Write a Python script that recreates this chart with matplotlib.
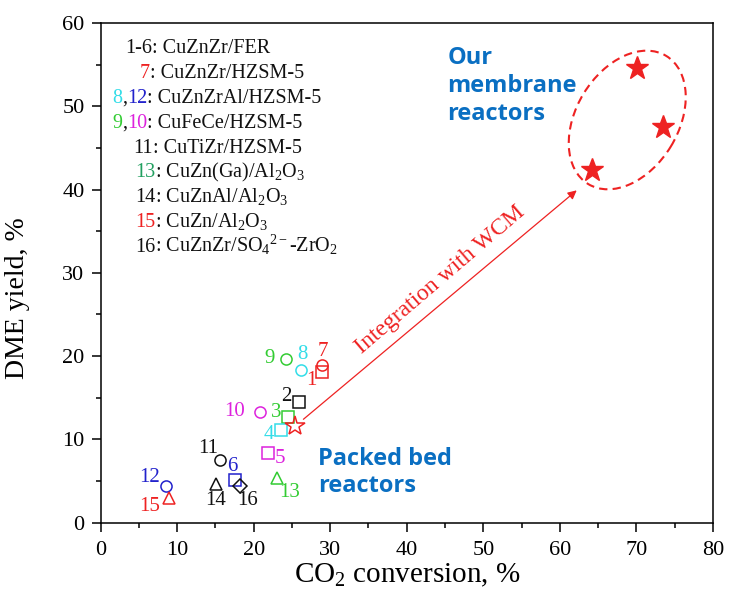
import numpy as np
import matplotlib.pyplot as plt
import matplotlib.transforms as mtransforms
from matplotlib.patches import Ellipse

plt.rcParams['font.family'] = ['Liberation Serif', 'DejaVu Serif']
plt.rcParams['mathtext.fontset'] = 'custom'
plt.rcParams['mathtext.rm'] = 'Liberation Serif'
plt.rcParams['mathtext.it'] = 'Liberation Serif:italic'

RED = '#ee2222'
CYAN = '#33dde8'
GREEN = '#33cc33'
MAGENTA = '#dd22dd'
BLUE = '#2222cc'
BLACK = '#111111'
TEAL = '#22a060'
NAVY = '#0a6fc2'

# packed bed reactors, CO2 conversion (%) vs DME yield (%)
pb_labels = ['1', '2', '3', '4', '5', '6', '7', '8', '9', '10',
             '11', '12', '13', '14', '15', '16']
pb_conv = [28.9, 25.9, 24.5, 23.6, 21.9, 17.6, 28.9, 26.2, 24.2, 20.8,
           15.6, 8.6, 23.1, 15.1, 8.9, 18.2]
pb_yield = [18.1, 14.5, 12.7, 11.1, 8.3, 5.1, 18.9, 18.3, 19.6, 13.3,
            7.5, 4.4, 5.3, 4.6, 2.9, 4.4]
pb_marker = ['s', 's', 's', 's', 's', 's', 'o', 'o', 'o', 'o',
             'o', 'o', '^', '^', '^', 'D']
pb_color = [RED, BLACK, GREEN, CYAN, MAGENTA, BLUE, RED, CYAN, GREEN, MAGENTA,
            BLACK, BLUE, GREEN, BLACK, RED, BLACK]
# label offsets in points
pb_offset = [(-7.5, -6.5), (-9, 3.6), (-8.5, 2.9), (-9, -3.5), (8.5, -3.6),
             (-2.2, 10), (0.7, 10), (0.7, 11.5), (-12, 0.7), (-18, 0),
             (-8.5, 8.5), (-12, 6), (8.5, -10.5), (-0.7, -12), (-13.5, -5.5),
             (5.5, -10.5)]

# packed bed reference point (open star)
ref_conv = [25.4]
ref_yield = [11.6]

# membrane reactors
mr_conv = [64.2, 70.1, 73.5]
mr_yield = [42.3, 54.6, 47.5]

legend_rows = [
    ([('1-6', BLACK)], 'CuZnZr/FER'),
    ([('7', RED)], 'CuZnZr/HZSM-5'),
    ([('8', CYAN), (',', BLACK), ('12', BLUE)], 'CuZnZrAl/HZSM-5'),
    ([('9', GREEN), (',', BLACK), ('10', MAGENTA)], 'CuFeCe/HZSM-5'),
    ([('11', BLACK)], 'CuTiZr/HZSM-5'),
    ([('13', TEAL)], 'CuZn(Ga)/Al$_2$O$_3$'),
    ([('14', BLACK)], 'CuZnAl/Al$_2$O$_3$'),
    ([('15', RED)], 'CuZn/Al$_2$O$_3$'),
    ([('16', BLACK)], 'CuZnZr/SO$_4$$^{2-}$-ZrO$_2$'),
]
legend_x = [3.2, 5.16, 1.5, 1.5, 4.25, 4.5, 4.5, 4.5, 4.5]

fig = plt.figure(figsize=(7.3, 5.96), dpi=100)
ax = fig.add_axes([0.1377, 0.1233, 0.8390, 0.8381])

for i in range(len(pb_labels)):
    ax.plot(pb_conv[i], pb_yield[i], marker=pb_marker[i], ms=8 if pb_marker[i] != 'D' else 7,
            mfc='none', mec=pb_color[i], mew=1.1, ls='none')
    ax.annotate(pb_labels[i], (pb_conv[i], pb_yield[i]), xytext=pb_offset[i],
                textcoords='offset points', ha='center', va='center',
                color=pb_color[i], fontsize=15)

ax.plot(ref_conv, ref_yield, marker='*', ms=15, mfc='none', mec=RED, mew=1.1, ls='none')
ax.plot(mr_conv, mr_yield, marker='*', ms=17, mfc=RED, mec=RED, ls='none')

# arrow from packed bed to membrane
ax.annotate('', xy=(62.2, 39.9), xytext=(26.5, 12.4),
            arrowprops=dict(arrowstyle='-|>', color=RED, lw=0.9,
                            mutation_scale=13, shrinkA=0, shrinkB=0))
ax.text(45.2, 28.2, 'Integration with WCM', color=RED, fontsize=17,
        rotation=40.6, rotation_mode='anchor', ha='center', va='bottom')

# dashed ellipse round the membrane points
ell_tr = fig.dpi_scale_trans + mtransforms.ScaledTranslation(68.8, 48.35, ax.transData)
ax.add_patch(Ellipse((0, 0), 1.50, 1.02, angle=58.6, transform=ell_tr,
                     fill=False, ec=RED, lw=1.5, ls=(0, (4, 2.5))))

ax.text(45.3, 57.2, 'Our\nmembrane\nreactors', color=NAVY, fontsize=17,
        fontweight='bold', family='Open Sans', va='top', ha='left', linespacing=1.2)
ax.text(28.4, 9.1, 'Packed bed\nreactors', color=NAVY, fontsize=17,
        fontweight='bold', family='Open Sans', va='top', ha='left', linespacing=1.2)

ax.set_xlim(0, 80)
ax.set_ylim(0, 60)
ax.set_xticks(np.arange(0, 81, 10))
ax.set_yticks(np.arange(0, 61, 10))
ax.set_xticks(np.arange(0, 81, 5), minor=True)
ax.set_yticks(np.arange(0, 61, 5), minor=True)
ax.tick_params(which='major', direction='out', length=6.5, width=1.1, labelsize=16, pad=5)
ax.tick_params(which='minor', direction='out', length=3.5, width=1.1)
ax.tick_params(axis='x', which='major', pad=7)
for s in ax.spines.values():
    s.set_linewidth(1.1)

ax.set_xlabel('CO$_2$ conversion, %', fontsize=21, labelpad=1)
ax.set_ylabel('DME yield, %', fontsize=20)
ax.yaxis.set_label_coords(-0.115, 0.45)

# multi-coloured legend text
fig.canvas.draw()
r = fig.canvas.get_renderer()
px_per_unit = ax.get_window_extent(r).width / 80
for i, (pieces, desc) in enumerate(legend_rows):
    x = legend_x[i]
    y = 56.4 - 2.99 * i
    for txt, col in pieces + [(': ' + desc, BLACK)]:
        t = ax.text(x, y, txt, color=col, fontsize=14.5, va='baseline', ha='left')
        x += t.get_window_extent(r).width / px_per_unit

fig.savefig('out.png', dpi=100)
